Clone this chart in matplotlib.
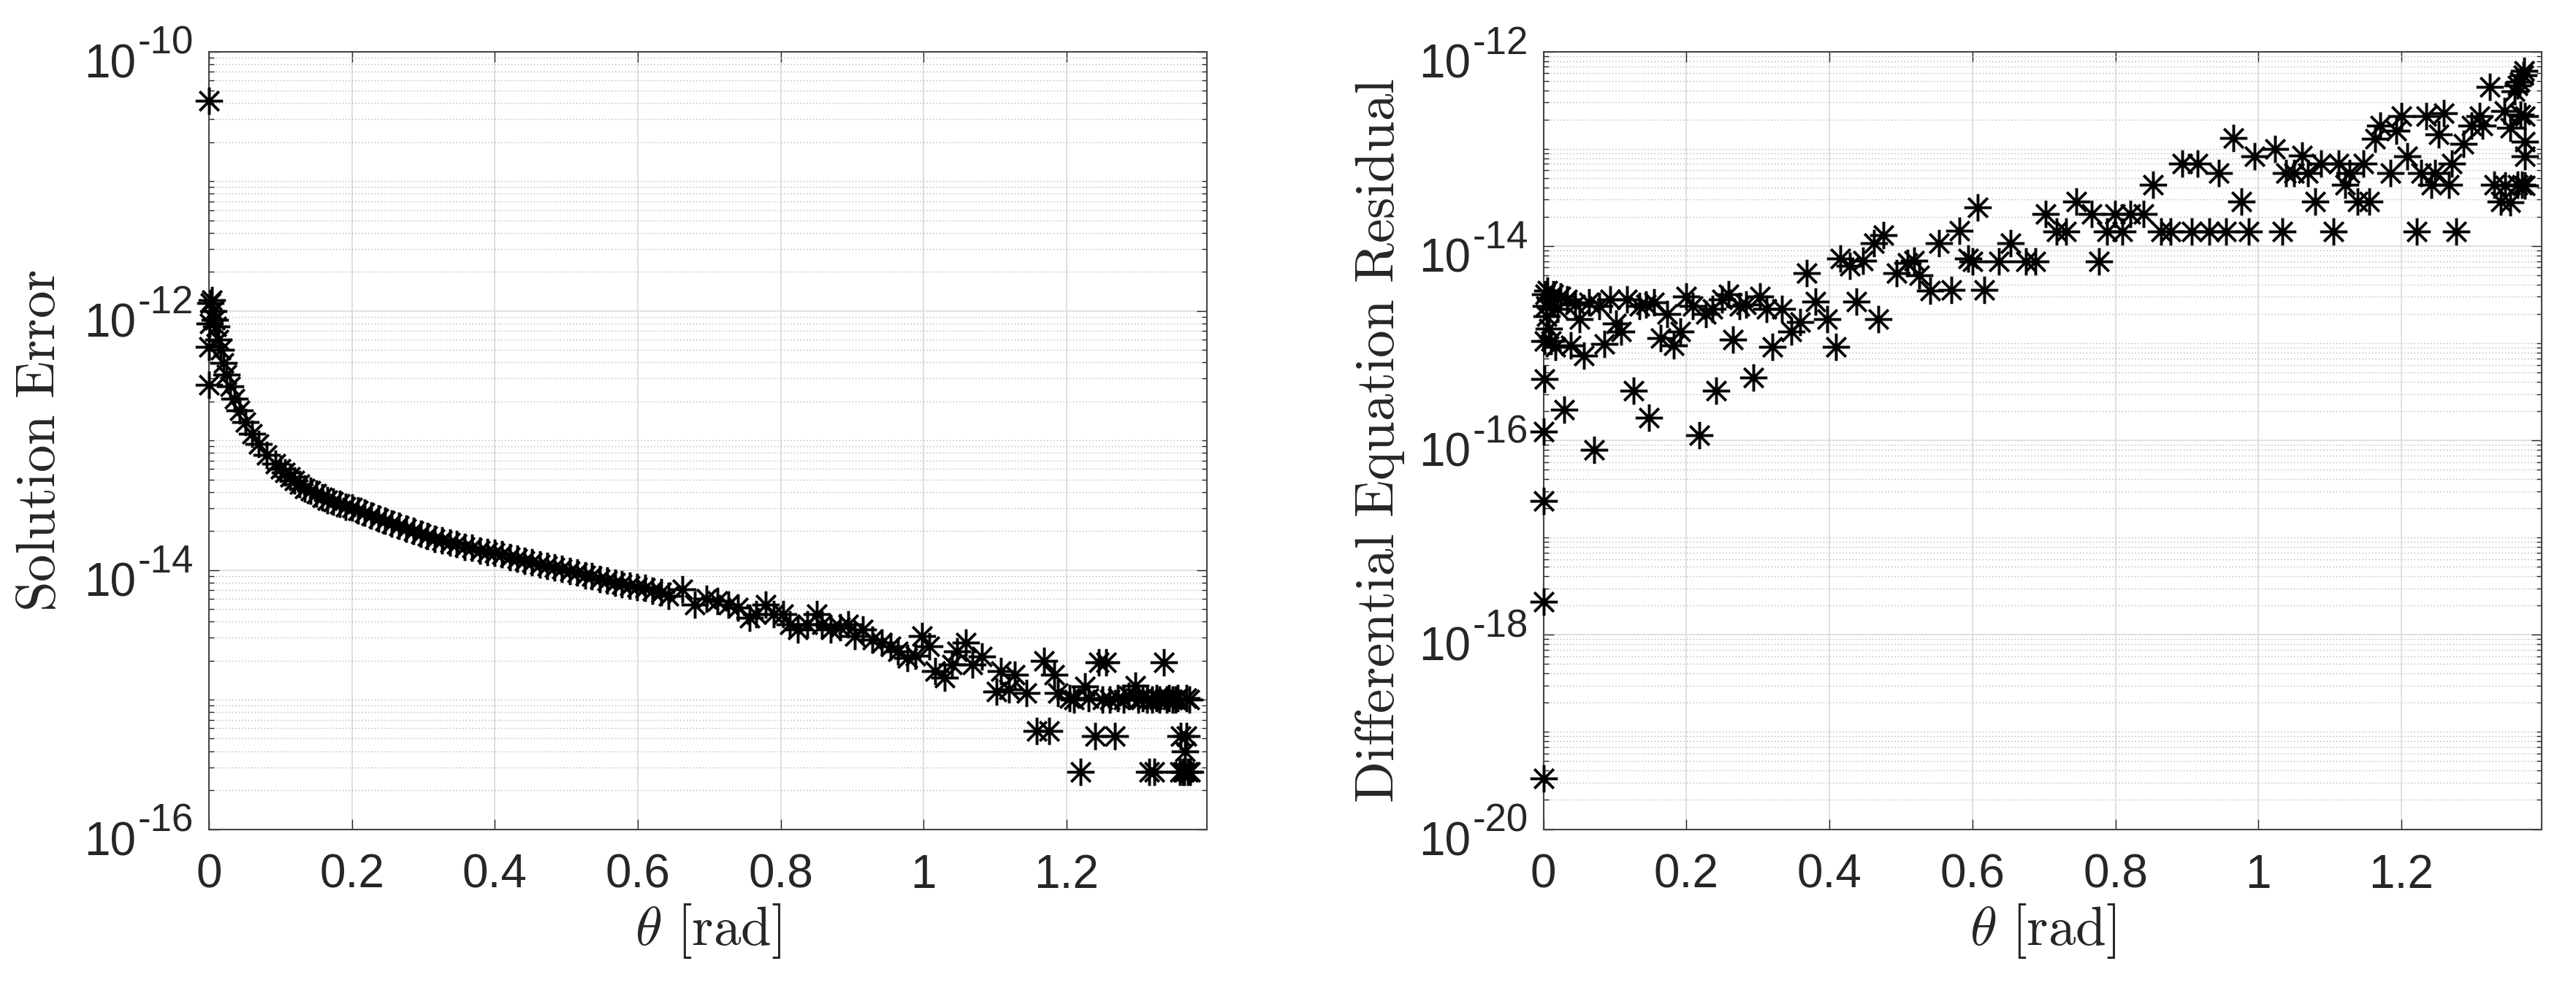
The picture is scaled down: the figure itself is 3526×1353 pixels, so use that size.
import numpy as np
import matplotlib
matplotlib.use('Agg')
import matplotlib.pyplot as plt
from matplotlib.path import Path
from matplotlib.ticker import FixedLocator, FixedFormatter, NullLocator

plt.rcParams['font.family'] = ['Liberation Sans', 'DejaVu Sans']
plt.rcParams['mathtext.fontset'] = 'cm'

# left panel: (theta [rad], log10 of solution error)
err_points = [
    (0.000, -10.38), (0.000, -12.57), (0.000, -12.28), (0.001, -12.10), (0.002, -11.94),
    (0.004, -11.92), (0.006, -12.00), (0.008, -12.07), (0.010, -12.12), (0.013, -12.22),
    (0.016, -12.30), (0.020, -12.40), (0.025, -12.49), (0.030, -12.58), (0.036, -12.68),
    (0.043, -12.77), (0.051, -12.86), (0.060, -12.95), (0.070, -13.03), (0.081, -13.11),
    (0.093, -13.18), (0.100, -13.22), (0.106, -13.25), (0.113, -13.28), (0.120, -13.31),
    (0.127, -13.34), (0.134, -13.37), (0.142, -13.39), (0.150, -13.41), (0.158, -13.44),
    (0.166, -13.46), (0.174, -13.47), (0.183, -13.49), (0.191, -13.51), (0.200, -13.52),
    (0.209, -13.54), (0.218, -13.56), (0.227, -13.58), (0.237, -13.60), (0.246, -13.62),
    (0.256, -13.64), (0.266, -13.66), (0.276, -13.68), (0.286, -13.70), (0.296, -13.72),
    (0.306, -13.74), (0.316, -13.76), (0.326, -13.77), (0.337, -13.79), (0.347, -13.80),
    (0.358, -13.82), (0.368, -13.83), (0.379, -13.85), (0.389, -13.86), (0.400, -13.87),
    (0.410, -13.88), (0.421, -13.90), (0.431, -13.91), (0.442, -13.93), (0.452, -13.94),
    (0.463, -13.96), (0.473, -13.97), (0.484, -13.98), (0.494, -13.99), (0.505, -14.01),
    (0.515, -14.02), (0.526, -14.04), (0.536, -14.05), (0.547, -14.07), (0.557, -14.08),
    (0.568, -14.10), (0.578, -14.11), (0.589, -14.12), (0.599, -14.13), (0.610, -14.14),
    (0.620, -14.16), (0.633, -14.17), (0.643, -14.20),
    (0.662, -14.15), (0.680, -14.27), (0.696, -14.22), (0.711, -14.24), (0.727, -14.27),
    (0.740, -14.29), (0.756, -14.37), (0.766, -14.34), (0.779, -14.27), (0.790, -14.34),
    (0.803, -14.34), (0.813, -14.42), (0.824, -14.46), (0.837, -14.42), (0.850, -14.34),
    (0.858, -14.42), (0.870, -14.46), (0.883, -14.44), (0.894, -14.42), (0.904, -14.51),
    (0.915, -14.46), (0.928, -14.54), (0.941, -14.56), (0.954, -14.59), (0.964, -14.63),
    (0.977, -14.68), (0.988, -14.66), (0.998, -14.51), (1.008, -14.59), (1.016, -14.78),
    (1.029, -14.83), (1.040, -14.73), (1.047, -14.63), (1.059, -14.56), (1.068, -14.73),
    (1.081, -14.67), (1.102, -14.94), (1.108, -14.78), (1.119, -14.92), (1.127, -14.81),
    (1.144, -14.95), (1.158, -15.24), (1.168, -14.70), (1.175, -15.24), (1.183, -14.81),
    (1.188, -14.95), (1.204, -14.99), (1.210, -15.00), (1.219, -15.56), (1.226, -14.90),
    (1.231, -14.99), (1.240, -15.28), (1.245, -14.71), (1.250, -15.00), (1.255, -14.71),
    (1.260, -15.00), (1.268, -15.28), (1.272, -14.99), (1.280, -15.00), (1.287, -14.97),
    (1.296, -14.89), (1.300, -15.00), (1.306, -14.99), (1.312, -15.00), (1.316, -15.56),
    (1.320, -15.00), (1.323, -15.56), (1.326, -14.99), (1.330, -15.00), (1.336, -14.71),
    (1.340, -15.00), (1.343, -14.99), (1.348, -15.00), (1.352, -15.00), (1.355, -14.99),
    (1.358, -15.56), (1.360, -15.28), (1.363, -15.56), (1.365, -15.56), (1.366, -15.40),
    (1.368, -15.28), (1.368, -14.99), (1.370, -15.56), (1.372, -15.00), (1.373, -15.56),
]

# right panel: (theta [rad], log10 of differential equation residual)
res_points = [
    (0.000, -19.48), (0.000, -17.66), (0.000, -16.62), (0.000, -15.91), (0.001, -15.37),
    (0.001, -14.98), (0.002, -14.50), (0.003, -14.62), (0.004, -14.72), (0.005, -14.46),
    (0.007, -14.85), (0.009, -14.55), (0.011, -14.98), (0.014, -14.50), (0.017, -15.04),
    (0.020, -14.65), (0.024, -14.52), (0.029, -15.68), (0.033, -14.55), (0.038, -15.02),
    (0.044, -14.60), (0.050, -14.75), (0.057, -15.13), (0.064, -14.58), (0.071, -16.10),
    (0.078, -14.62), (0.085, -15.01), (0.093, -14.55), (0.101, -14.80), (0.109, -14.88),
    (0.117, -14.55), (0.126, -15.49), (0.134, -14.62), (0.143, -14.60), (0.147, -15.77),
    (0.155, -14.58), (0.164, -14.95), (0.173, -14.70), (0.182, -15.02), (0.191, -14.88),
    (0.200, -14.52), (0.209, -14.62), (0.218, -15.95), (0.227, -14.70), (0.236, -14.65),
    (0.241, -15.49), (0.250, -14.55), (0.259, -14.50), (0.265, -14.96), (0.274, -14.62),
    (0.283, -14.60), (0.294, -15.35), (0.303, -14.52), (0.312, -14.65), (0.320, -15.04),
    (0.333, -14.65), (0.347, -14.88), (0.359, -14.78), (0.368, -14.28), (0.380, -14.57),
    (0.397, -14.75), (0.409, -15.04), (0.415, -14.13), (0.429, -14.20), (0.438, -14.57),
    (0.447, -14.15), (0.462, -13.97), (0.468, -14.75), (0.476, -13.89), (0.494, -14.28),
    (0.509, -14.17), (0.518, -14.15), (0.526, -14.30), (0.541, -14.46), (0.553, -13.97),
    (0.571, -14.45), (0.582, -13.84), (0.594, -14.13), (0.600, -14.16), (0.607, -13.60),
    (0.617, -14.45), (0.637, -14.16), (0.653, -13.97), (0.675, -14.16), (0.688, -14.16),
    (0.702, -13.67), (0.718, -13.85), (0.731, -13.85), (0.745, -13.54), (0.767, -13.67),
    (0.777, -14.16), (0.788, -13.85), (0.799, -13.67), (0.810, -13.85), (0.821, -13.67),
    (0.839, -13.67), (0.853, -13.37), (0.864, -13.85), (0.877, -13.85), (0.893, -13.15),
    (0.907, -13.85), (0.915, -13.15), (0.931, -13.85), (0.945, -13.25), (0.955, -13.85),
    (0.965, -12.89), (0.976, -13.54), (0.986, -13.85), (0.995, -13.08), (1.023, -13.00),
    (1.034, -13.85), (1.039, -13.25), (1.050, -13.25), (1.061, -13.07), (1.069, -13.25),
    (1.079, -13.54), (1.088, -13.15), (1.105, -13.85), (1.112, -13.15), (1.121, -13.37),
    (1.128, -13.25), (1.139, -13.54), (1.147, -13.15), (1.155, -13.54), (1.163, -12.90),
    (1.170, -12.76), (1.185, -13.25), (1.193, -12.81), (1.200, -12.66), (1.208, -13.08),
    (1.222, -13.85), (1.228, -13.25), (1.235, -12.66), (1.242, -13.37), (1.247, -13.25),
    (1.252, -12.85), (1.259, -12.63), (1.267, -13.37), (1.271, -13.15), (1.277, -13.85),
    (1.287, -12.95), (1.298, -12.76), (1.309, -12.66), (1.314, -12.76), (1.324, -12.36),
    (1.330, -13.37), (1.339, -13.54), (1.344, -12.61), (1.345, -13.38), (1.352, -12.78),
    (1.352, -13.55), (1.358, -12.41), (1.363, -12.35), (1.363, -13.37), (1.366, -12.31),
    (1.367, -12.65), (1.369, -13.37), (1.371, -12.24), (1.372, -12.20), (1.373, -12.66),
    (1.373, -12.93), (1.373, -13.08), (1.373, -13.38),
]

xtick_vals = [0, 0.2, 0.4, 0.6, 0.8, 1.0, 1.2]
xtick_text = ['0', '0.2', '0.4', '0.6', '0.8', '1', '1.2']
theta_max = 1.3963

W, H = 3526, 1353
fig = plt.figure(figsize=(W / 100, H / 100), dpi=100)

# MATLAB-style '*' marker: plus and cross overlaid
star = Path([(-1, 0), (1, 0), (0, -1), (0, 1),
             (-.7071, -.7071), (.7071, .7071), (-.7071, .7071), (.7071, -.7071)],
            [Path.MOVETO, Path.LINETO] * 4)

dark = '#262626'


def panel(rect, points, exps, ylab, ylab_x):
    ax = fig.add_axes(rect)
    th = [p[0] for p in points]
    val = [10.0 ** p[1] for p in points]
    ax.plot(th, val, linestyle='none', marker=star, markersize=27,
            markeredgewidth=2.8, color='black', markerfacecolor='none',
            clip_on=False, zorder=5)
    ax.set_yscale('log')
    ax.set_xlim(0, theta_max)
    ax.set_ylim(10.0 ** exps[0], 10.0 ** exps[-1])

    ax.xaxis.set_major_locator(FixedLocator(xtick_vals))
    ax.xaxis.set_major_formatter(FixedFormatter(xtick_text))
    ax.xaxis.set_minor_locator(NullLocator())
    ax.yaxis.set_major_locator(FixedLocator([10.0 ** e for e in exps]))
    minors = [m * 10.0 ** d for d in range(exps[0], exps[-1]) for m in range(1, 10)]
    ax.yaxis.set_minor_locator(FixedLocator(minors))

    ax.grid(True, which='major', color='#dddddd', linewidth=1.3, linestyle='-')
    ax.grid(True, which='minor', axis='y', color='#b5b5b5', linewidth=1.0,
            linestyle=(0, (1, 2.2)))
    ax.set_axisbelow(True)

    ax.tick_params(which='both', direction='in', top=True, right=True,
                   color=dark, width=1.0, labelleft=False)
    ax.tick_params(which='major', length=10, pad=24, labelsize=46,
                   labelcolor=dark)
    ax.tick_params(which='minor', length=5)
    for s in ax.spines.values():
        s.set_color('#444444')
        s.set_linewidth(1.5)

    # y tick labels drawn as "10" plus a raised exponent, MATLAB look
    for e in exps:
        ax.annotate('10', xy=(0, 10.0 ** e), xycoords=ax.get_yaxis_transform(),
                    xytext=(-100, -35.5), textcoords='offset pixels',
                    ha='right', va='baseline', fontsize=46, color=dark,
                    annotation_clip=False)
        ax.annotate('-%d' % abs(e), xy=(0, 10.0 ** e), xycoords=ax.get_yaxis_transform(),
                    xytext=(-21, -3), textcoords='offset pixels',
                    ha='right', va='baseline', fontsize=38, color=dark,
                    annotation_clip=False)

    x0, y0, w, h = rect
    fig.text(ylab_x / W, y0 + h / 2, ylab, rotation=90, ha='center',
             va='center', fontsize=54, color=dark)
    fig.text(x0 + w / 2, 1 - 1275 / H, r'$\theta\ \mathrm{[rad]}$',
             ha='center', va='center', fontsize=54, color=dark)
    return ax


bottom = 1 - 1135.5 / H
height = (1135.5 - 70.7) / H
panel([286 / W, bottom, (1652 - 286) / W, height], err_points,
      [-16, -14, -12, -10], r'$\mathrm{Solution\ Error}$', 56)
panel([2112.7 / W, bottom, (3479 - 2112.7) / W, height], res_points,
      [-20, -18, -16, -14, -12], r'$\mathrm{Differential\ Equation\ Residual}$', 1889)

fig.savefig('out.png', dpi=100, facecolor='white')
